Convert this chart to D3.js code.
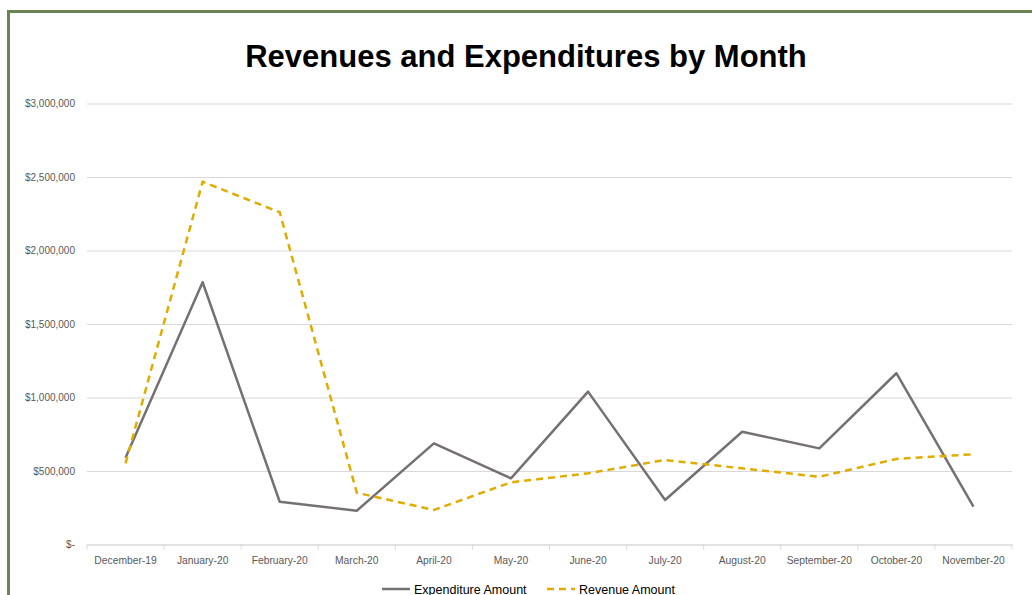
<!DOCTYPE html>
<html>
<head>
<meta charset="utf-8">
<script src="https://d3js.org/d3.v7.min.js"></script>
<style>
  body { margin: 0; background: #fff; overflow: hidden; }
  svg { display: block; font-family: "Liberation Sans", Arial, sans-serif; }
</style>
</head>
<body>
<div id="chart"></div>
<script>
// Chart data
const months = ["December-19", "January-20", "February-20", "March-20", "April-20", "May-20",
  "June-20", "July-20", "August-20", "September-20", "October-20", "November-20"];
const expenditure = [590000, 1784000, 291000, 230000, 688000, 450000,
  1040000, 303000, 767000, 654000, 1165000, 257000];
const revenue = [552000, 2468000, 2260000, 352000, 235000, 423000,
  484000, 575000, 518000, 461000, 582000, 614000];
const yTicks = [0, 500000, 1000000, 1500000, 2000000, 2500000, 3000000];

const width = 1032;
const height = 595;
const margin = { top: 103.5, right: 20, bottom: 50.5, left: 87 };

const svg = d3.select("#chart")
    .append("svg")
    .attr("width", width)
    .attr("height", height);

// green frame
svg.append("rect")
    .attr("x", 8.5)
    .attr("y", 11.5)
    .attr("width", 1040)
    .attr("height", 600)
    .attr("fill", "none")
    .attr("stroke", "#6b8454")
    .attr("stroke-width", 3);

// title
svg.append("text")
    .attr("x", 526)
    .attr("y", 67)
    .attr("text-anchor", "middle")
    .attr("font-size", 31)
    .attr("font-weight", "bold")
    .attr("fill", "#000")
    .text("Revenues and Expenditures by Month");

// scales
const x = d3.scaleBand()
    .domain(months)
    .range([margin.left, width - margin.right]);

const y = d3.scaleLinear()
    .domain([0, 3000000])
    .range([height - margin.bottom, margin.top]);

const fmt = v => v === 0 ? "$-" : "$" + d3.format(",")(v);

// gridlines + y labels
const yAxis = svg.append("g")
    .attr("transform", `translate(${margin.left},0)`)
    .call(d3.axisLeft(y).tickValues(yTicks).tickFormat(fmt)
        .tickSize(-(width - margin.right - margin.left)).tickPadding(12));
yAxis.select(".domain").remove();
yAxis.selectAll(".tick line")
    .attr("stroke", "#d9d9d9")
    .attr("stroke-width", 1);
yAxis.selectAll(".tick text")
    .attr("fill", "#595959")
    .attr("font-size", 10)
    .attr("font-family", "Liberation Sans, Arial, sans-serif");

// x axis
const xAxis = svg.append("g")
    .attr("transform", `translate(0,${height - margin.bottom})`)
    .call(d3.axisBottom(x).tickSize(0).tickPadding(12));
xAxis.select(".domain")
    .attr("stroke", "#d9d9d9");
xAxis.selectAll(".tick text")
    .attr("fill", "#595959")
    .attr("font-size", 10.3)
    .attr("font-family", "Liberation Sans, Arial, sans-serif");

// tick marks between categories
svg.append("g")
    .selectAll("line")
    .data(months.concat(["end"]))
    .enter()
    .append("line")
    .attr("x1", (d, i) => i < months.length ? x(d) : x.range()[1])
    .attr("x2", (d, i) => i < months.length ? x(d) : x.range()[1])
    .attr("y1", height - margin.bottom)
    .attr("y2", height - margin.bottom + 5)
    .attr("stroke", "#d9d9d9");

const cx = d => x(d) + x.bandwidth() / 2;

const line = d3.line()
    .x((d, i) => cx(months[i]))
    .y(d => y(d));

// expenditure
svg.append("path")
    .datum(expenditure)
    .attr("d", line)
    .attr("fill", "none")
    .attr("stroke", "#767171")
    .attr("stroke-width", 2.5)
    .attr("stroke-linejoin", "round");

// revenue
svg.append("path")
    .datum(revenue)
    .attr("d", line)
    .attr("fill", "none")
    .attr("stroke", "#e0ac00")
    .attr("stroke-width", 2.5)
    .attr("stroke-dasharray", "7,5");

// legend
const legend = [
    { name: "Expenditure Amount", color: "#767171", dash: null, x: 382 },
    { name: "Revenue Amount", color: "#e0ac00", dash: "7,5", x: 547 }
];
const lg = svg.append("g")
    .selectAll("g")
    .data(legend)
    .enter()
    .append("g")
    .attr("transform", d => `translate(${d.x},589)`);
lg.append("line")
    .attr("x1", 0)
    .attr("x2", 28)
    .attr("stroke", d => d.color)
    .attr("stroke-width", 2.5)
    .attr("stroke-dasharray", d => d.dash);
lg.append("text")
    .attr("x", 32)
    .attr("y", 4.5)
    .attr("font-size", 12.5)
    .attr("fill", "#000")
    .text(d => d.name);
</script>
</body>
</html>
